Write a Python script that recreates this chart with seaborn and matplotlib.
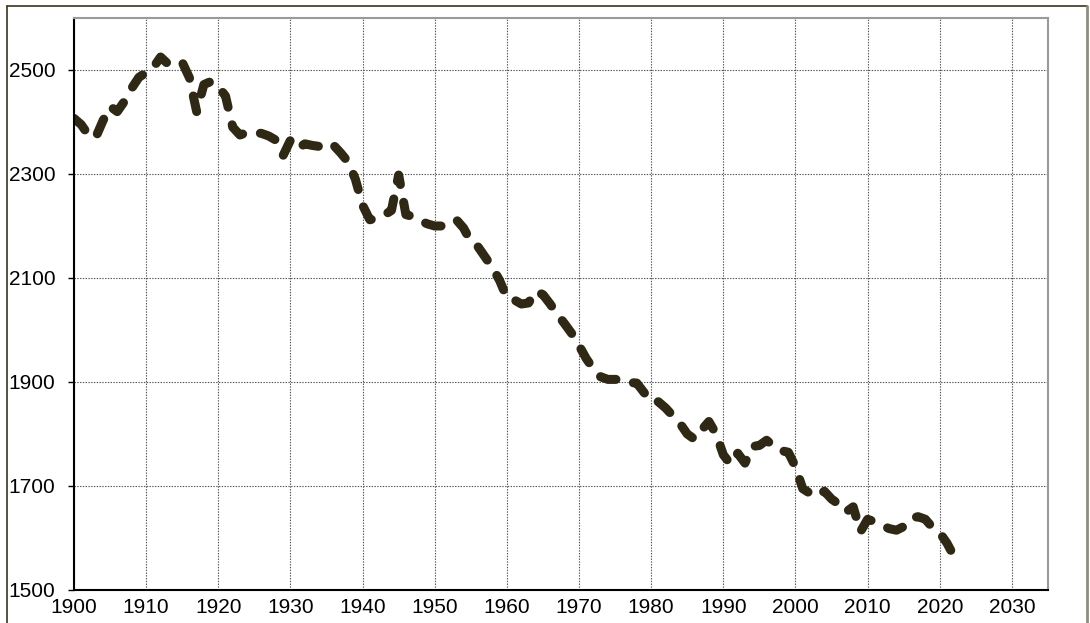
import numpy as np
import pandas as pd
import matplotlib
matplotlib.use("Agg")
import matplotlib.pyplot as plt
from matplotlib.lines import Line2D
import seaborn as sns

# yearly values
years = list(range(1900, 2023))
values = [
    2407, 2395, 2375, 2370, 2402, 2430, 2420, 2440, 2465, 2486,  # 1900s
    2495, 2505, 2525, 2512, 2512, 2515, 2485, 2420, 2472, 2478,  # 1910s
    2468, 2450, 2390, 2375, 2380, 2380, 2378, 2373, 2365, 2336,  # 1920s
    2365, 2349, 2358, 2355, 2353, 2360, 2355, 2340, 2323, 2290,  # 1930s
    2240, 2212, 2215, 2221, 2230, 2298, 2222, 2218, 2210, 2204,  # 1940s
    2200, 2200, 2205, 2212, 2196, 2170, 2160, 2140, 2120, 2095,  # 1950s
    2062, 2058, 2050, 2052, 2075, 2068, 2050, 2030, 2012, 1993,  # 1960s
    1970, 1945, 1925, 1910, 1905, 1905, 1905, 1899, 1898, 1880,  # 1970s
    1862, 1862, 1850, 1835, 1820, 1800, 1790, 1808, 1824, 1800,  # 1980s
    1760, 1742, 1763, 1744, 1776, 1778, 1788, 1776, 1768, 1765,  # 1990s
    1737, 1695, 1686, 1680, 1690, 1675, 1665, 1650, 1660, 1612,  # 2000s
    1636, 1631, 1624, 1618, 1615, 1622, 1638, 1641, 1636, 1620,  # 2010s
    1610, 1590, 1564,                                            # 2020s
]
x_ticks = list(range(1900, 2031, 10))
y_ticks = list(range(1500, 2501, 200))

df = pd.DataFrame({"year": years, "value": values})

sns.set_theme(style="white")
plt.rcParams["font.family"] = ["Liberation Sans", "DejaVu Sans"]
plt.rcParams["lines.scale_dashes"] = False

fig = plt.figure(figsize=(10.9, 6.23), dpi=100)
ax = fig.add_axes([74 / 1090, 1 - 590 / 623, (1048 - 74) / 1090, (590 - 18) / 623])

sns.lineplot(data=df, x="year", y="value", ax=ax, color="#2e2814",
             linewidth=6.5, linestyle=(0, (11.5, 13)))
for ln in ax.get_lines():
    ln.set_dash_capstyle("round")
    ln.set_solid_capstyle("round")

ax.set_xlim(1900, 2035)
ax.set_ylim(1500, 2600)
ax.set_xticks(x_ticks)
ax.set_yticks(y_ticks)
ax.set_xlabel("")
ax.set_ylabel("")

ax.grid(True, color="#555555", linestyle=(0, (1, 1)), linewidth=0.8)
ax.set_axisbelow(True)

ax.tick_params(axis="y", which="major", left=True, length=4.5, width=1,
               color="black", pad=9, labelsize=15, labelcolor="black")
ax.tick_params(axis="x", which="major", bottom=False, length=0, pad=6,
               labelsize=15, labelcolor="black")

for side in ["left", "bottom"]:
    ax.spines[side].set_color("black")
    ax.spines[side].set_linewidth(1.5)
for side in ["top", "right"]:
    ax.spines[side].set_color("#9a9a9a")
    ax.spines[side].set_linewidth(1.5)

# outer frame of the picture
fig.add_artist(Line2D([7 / 1090, 7 / 1090], [0, 1 - 6 / 623], color="#3a3320", lw=1.2,
                      transform=fig.transFigure))
fig.add_artist(Line2D([7 / 1090, 1087 / 1090], [1 - 6 / 623, 1 - 6 / 623], color="#3a3320",
                      lw=1.2, transform=fig.transFigure))
fig.add_artist(Line2D([1087 / 1090, 1087 / 1090], [0, 1 - 6 / 623], color="#8f8c80", lw=2,
                      transform=fig.transFigure))

fig.savefig("out.png", dpi=100)
